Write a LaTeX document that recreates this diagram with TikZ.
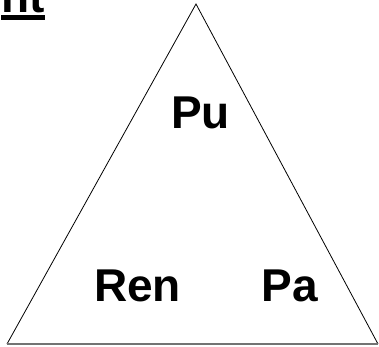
\documentclass[tikz,border=0pt]{standalone}
\usepackage{fontspec}
\setmainfont{Liberation Sans}
\usetikzlibrary{positioning}

\begin{document}
\begin{tikzpicture}[
    x=1pt, y=1pt,
    label/.style={
        inner sep=0pt,
        anchor=base,
        font=\fontsize{46}{50}\selectfont\bfseries
    },
    side/.style={
        draw=black,
        line width=0.8pt
    },
    base/.style={
        draw=black!55,
        line width=1.6pt
    }
]
\useasboundingbox (0,0) rectangle (379,346);
\clip (0,0) rectangle (379,346);

% Corners
\coordinate (top)   at (196,342);
\coordinate (left)  at (7,2);
\coordinate (right) at (378,2);

% Nodes
\node (title) [label, anchor=base east] at (45,333) {nt};
\node (pu)    [label] at (200.5,218) {Pu};
\node (ren)   [label] at (137.5,45)  {Ren};
\node (pa)    [label] at (290,45)    {Pa};

% Lines
\draw[line width=5pt] ([yshift=-4.5pt]title.base west) -- ([yshift=-4.5pt]title.base east);
\draw[side] (left) -- (top) -- (right);
\draw[base] (left) -- (right);

\end{tikzpicture}
\end{document}
